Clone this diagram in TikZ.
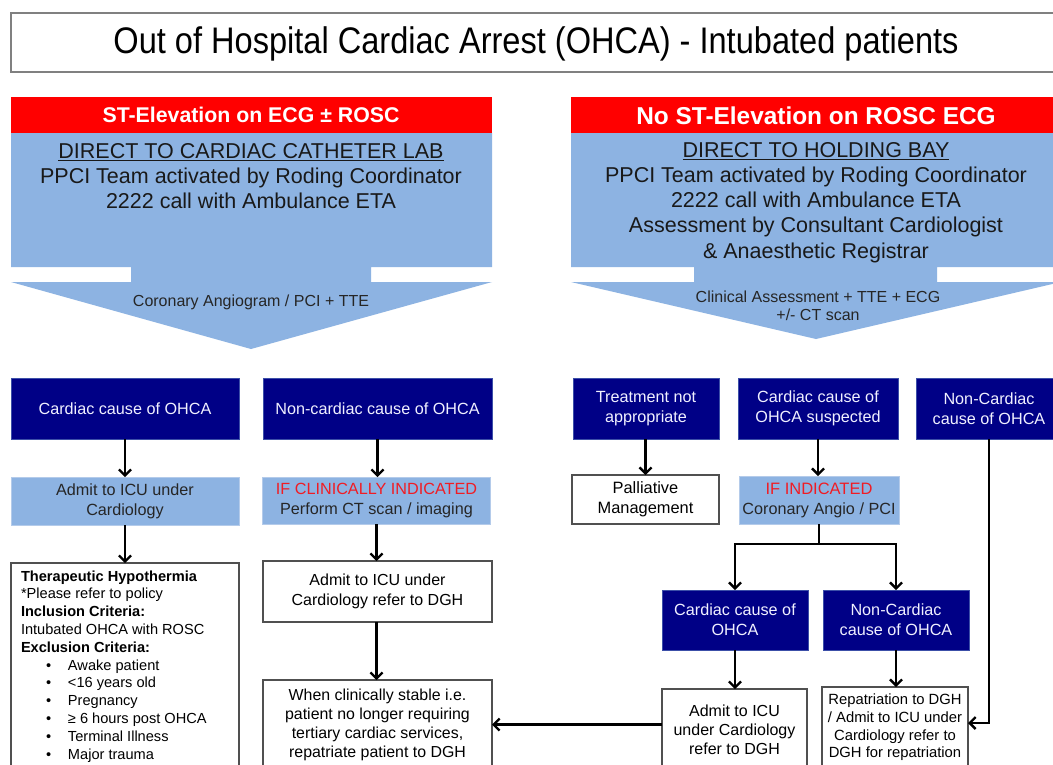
\documentclass[tikz,border=0pt]{standalone}
\usepackage{fontspec}
\setmainfont{Liberation Sans}
\usetikzlibrary{arrows.meta,calc}
\definecolor{navybox}{HTML}{000086}
\definecolor{navyedge}{HTML}{3C4FA8}
\definecolor{paleblue}{HTML}{8DB3E2}
\definecolor{paleedge}{HTML}{B4CBEA}
\definecolor{alertred}{HTML}{FF0000}
\definecolor{textred}{HTML}{F01C24}
\definecolor{edgegray}{HTML}{505050}
\begin{document}
\begin{tikzpicture}[x=1pt,y=-1pt,
  every node/.style={inner sep=0pt, outer sep=0pt},
  darkbox/.style={fill=navybox, draw=navyedge, line width=0.8pt, text=white!94!blue,
    align=center, font={\fontsize{16.2}{20}\selectfont}},
  palebox/.style={fill=paleblue, draw=paleedge, line width=0.8pt, text=black!85,
    align=center, font={\fontsize{16.2}{20}\selectfont}},
  whitebox/.style={fill=white, draw=edgegray, line width=1.3pt, text=black,
    align=center, font={\fontsize{16}{19.5}\selectfont}},
  flow/.style={line width=2.3pt, -{Straight Barb[length=6pt,width=12pt]}},
  banner/.style={text=white, font={\bfseries\fontsize{21.3}{25}\selectfont}},
  bodytext/.style={text=black!90, align=center, font={\fontsize{21.5}{25.2}\selectfont}},
  arrowtext/.style={text=black!85, align=center, font={\fontsize{16}{18}\selectfont}}
]
\clip (0,0) rectangle (1053,764);
\fill[white] (0,0) rectangle (1053,764);

% title
\node[draw=gray, line width=1.5pt, minimum width=1051pt, minimum height=59pt,
      anchor=north west] (title) at (11,13) {};
\node[font={\fontsize{37}{40}\selectfont}] (titletext) at (536,44)
  {\scalebox{0.88}[1]{Out of Hospital Cardiac Arrest (OHCA) - Intubated patients}};

% left block arrow
\fill[alertred] (11,97) rectangle (492,133);
\fill[paleblue] (11,133) -- (492,133) -- (492,267) -- (371,267) -- (371,282)
  -- (492,282) -- (251,349) -- (11,282) -- (131,282) -- (131,267) -- (11,267) -- cycle;
\node[banner] (hl) at (251,115) {ST-Elevation on ECG ± ROSC};
\node[bodytext] (bl) at (251,176) {\underline{DIRECT TO CARDIAC CATHETER LAB}\\
  PPCI Team activated by Roding Coordinator\\2222 call with Ambulance ETA};
\node[arrowtext] (al) at (251,302) {Coronary Angiogram / PCI + TTE};

% right block arrow
\fill[alertred] (571,97) rectangle (1061,133);
\fill[paleblue] (571,133) -- (1061,133) -- (1061,267) -- (937,267) -- (937,282)
  -- (1061,282) -- (816,339) -- (571,282) -- (694,282) -- (694,267) -- (571,267) -- cycle;
\node[banner, font={\bfseries\fontsize{24.4}{26}\selectfont}] (hr) at (816,116) {No ST-Elevation on ROSC ECG};
\node[bodytext] (br) at (816,202.5) {\underline{DIRECT TO HOLDING BAY}\\
  PPCI Team activated by Roding Coordinator\\2222 call with Ambulance ETA\\
  Assessment by Consultant Cardiologist\\\& Anaesthetic Registrar};
\node[arrowtext] (ar) at (818,306) {Clinical Assessment + TTE + ECG\\+/- CT scan};

% left column
\node[darkbox, minimum width=228pt, minimum height=61pt] (c1) at (125,408.5) {Cardiac cause of OHCA};
\node[palebox, minimum width=228pt, minimum height=48pt] (a1) at (125,501) {Admit to ICU under\\Cardiology};
\node[whitebox, minimum width=228pt, minimum height=235pt, anchor=north] (th) at (125,563) {};
\node[anchor=north west, align=left, font={\fontsize{14.6}{17.8}\selectfont}] (thtext) at (21,570.5)
  {\textbf{Therapeutic Hypothermia}\\
   *Please refer to policy\\
   \textbf{Inclusion Criteria:}\\
   Intubated OHCA with ROSC\\
   \textbf{Exclusion Criteria:}\\
   \hspace*{25pt}\makebox[22pt][l]{•}Awake patient\\
   \hspace*{25pt}\makebox[22pt][l]{•}<16 years old\\
   \hspace*{25pt}\makebox[22pt][l]{•}Pregnancy\\
   \hspace*{25pt}\makebox[22pt][l]{•}≥ 6 hours post OHCA\\
   \hspace*{25pt}\makebox[22pt][l]{•}Terminal Illness\\
   \hspace*{25pt}\makebox[22pt][l]{•}Major trauma};

% second column
\node[darkbox, minimum width=229pt, minimum height=61pt] (n1) at (377.5,408.5) {Non-cardiac cause of OHCA};
\node[palebox, minimum width=228pt, minimum height=47pt] (ci) at (376.5,500.5)
  {\textcolor{textred}{IF CLINICALLY INDICATED}\\Perform CT scan / imaging};
\node[whitebox, minimum width=229pt, minimum height=61pt] (ad) at (377.5,591.5)
  {Admit to ICU under\\Cardiology refer to DGH};
\node[whitebox, minimum width=229pt, minimum height=89pt, font={\fontsize{15.9}{19}\selectfont}] (wh) at (377.5,724.5)
  {When clinically stable i.e.\\patient no longer requiring\\tertiary cardiac services,\\repatriate patient to DGH};

% right side, top row
\node[darkbox, minimum width=146pt, minimum height=61pt] (tn) at (646,408.5) {Treatment not\\appropriate};
\node[darkbox, minimum width=160pt, minimum height=61pt] (cs) at (818,408.5) {Cardiac cause of\\OHCA suspected};
\node[darkbox, minimum width=146pt, minimum height=61pt] (nc) at (989,408.5) {Non-Cardiac\\cause of OHCA};

\node[whitebox, minimum width=147pt, minimum height=49pt, font={\fontsize{16.4}{20}\selectfont}] (pm) at (645.5,499.5) {Palliative\\Management};
\node[palebox, minimum width=160pt, minimum height=48pt] (ii) at (819,500)
  {\textcolor{textred}{\fontsize{16.5}{20}\selectfont IF INDICATED}\\Coronary Angio / PCI};

\node[darkbox, minimum width=146pt, minimum height=60pt] (c2) at (735,620) {Cardiac cause of\\OHCA};
\node[darkbox, minimum width=146pt, minimum height=60pt] (n2) at (896,620) {Non-Cardiac\\cause of OHCA};

\node[whitebox, minimum width=145pt, minimum height=82pt, font={\fontsize{16}{19}\selectfont}] (ad2) at (734.5,730)
  {Admit to ICU\\under Cardiology\\refer to DGH};
\node[whitebox, minimum width=146pt, minimum height=81pt, font={\fontsize{14.8}{17.7}\selectfont}] (rp) at (895,727.5)
  {Repatriation to DGH\\/ Admit to ICU under\\Cardiology refer to\\DGH for repatriation};

% connectors
\draw[flow] (c1.south) -- (a1.north);
\draw[flow] (a1.south) -- (th.north);
\draw[flow] (n1.south) -- (n1.south |- ci.north);
\draw[flow] (ci.south) -- (ci.south |- ad.north);
\draw[flow] (ad.south -| ci.south) -- (ci.south |- wh.north);
\draw[flow] (tn.south -| pm.north) -- (pm.north);
\draw[flow] (cs.south) -- (cs.south |- ii.north);
\coordinate (split) at ($(ii.south)+(0,20)$);
\draw[line width=2.3pt] (ii.south) -- (split);
\draw[flow] (split) -| (c2.north);
\draw[flow] (split) -| (n2.north);
\draw[flow] (c2.south) -- (c2.south |- ad2.north);
\draw[flow] (n2.south) -- (n2.south |- rp.north);
\draw[flow] (nc.south) |- ([yshift=4.5pt]rp.east);
\draw[flow] (ad2.west |- wh.east) -- (wh.east);
\end{tikzpicture}
\end{document}
